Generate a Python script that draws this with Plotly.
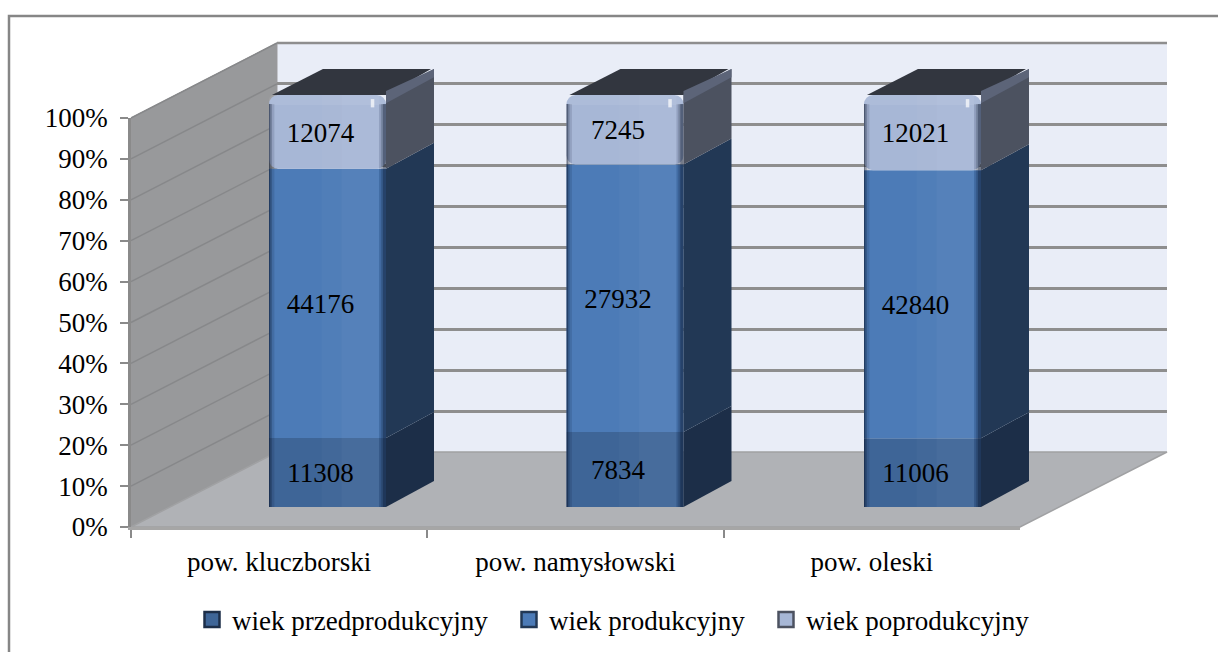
import plotly.graph_objects as go

W, H = 1218, 652
FONT = "Liberation Serif"

# ---- data ----
categories = ["pow. kluczborski", "pow. namysłowski", "pow. oleski"]
series_names = ["wiek przedprodukcyjny", "wiek produkcyjny", "wiek poprodukcyjny"]
przed = [11308, 7834, 11006]
prod = [44176, 27932, 42840]
post = [12074, 7245, 12021]
pct_ticks = [0, 10, 20, 30, 40, 50, 60, 70, 80, 90, 100]

series_values = [przed, prod, post]
front_col = ["#3E6597", "#4C7BB7", "#A7B7D6"]
side_col = ["#1C2E48", "#223855", "#4C5260"]
CAP = "#32363F"
GRID = "#8E8E8E"

# ---- geometry of the pseudo-3D frame, in page pixels ----
FX0, FX1, FY0, FY1 = 131, 1020, 527, 118      # front plane (axis)
BX0, BX1, BY0, BY1 = 277, 1167, 452, 43       # back wall
BAR_C0, BAR_STEP, BAR_W = 327.5, 297.5, 117   # bar centre, spacing, width (px)
BAR_Y0, BAR_PX100 = 507, 412                  # bar baseline, px for 100 %
DX, DY = 48, 26                               # bar depth in px
LABEL_SHIFT = -7                              # label offset from bar centre, px
LABEL_DROP = 3                                # label offset below segment middle, px
LEGEND_TEXT_X = [232, 549, 806]               # where each legend text starts, px
LEGEND_INSET = 40                             # legend left edge to its text, px


def px(x):
    return x / W


def py(y):
    return 1 - y / H


def path(points):
    return "M" + " L".join(f"{px(x):.5f},{py(y):.5f}" for x, y in points) + " Z"


# bar-plane axes span the whole page
x3_range = [(0 - BAR_C0) / BAR_STEP, (W - BAR_C0) / BAR_STEP]
y3_range = [(BAR_Y0 - H) * 100 / BAR_PX100, BAR_Y0 * 100 / BAR_PX100]
dx_u, dy_u = DX / BAR_STEP, DY * 100 / BAR_PX100
bw_u = BAR_W / BAR_STEP

# cumulative percentages
totals = [sum(v[i] for v in series_values) for i in range(3)]
pct = [[v[i] * 100 / totals[i] for i in range(3)] for v in series_values]
bases = [[0, 0, 0]]
for p in pct[:-1]:
    bases.append([b + q for b, q in zip(bases[-1], p)])

fig = go.Figure()

# anchor traces so that back wall and front axes exist
fig.add_trace(go.Scatter(x=[0], y=[None], xaxis="x", yaxis="y", showlegend=False, hoverinfo="skip"))
fig.add_trace(go.Scatter(x=categories, y=[None] * 3, xaxis="x2", yaxis="y2", showlegend=False, hoverinfo="skip"))

xs = [0, 1, 2]
# side faces
for s in range(3):
    for i in xs:
        r = i + bw_u / 2
        b, t = bases[s][i], bases[s][i] + pct[s][i]
        fig.add_trace(go.Scatter(
            x=[r, r + dx_u, r + dx_u, r], y=[b, b + dy_u, t + dy_u, t],
            fill="toself", fillcolor=side_col[s], mode="lines", line=dict(width=0),
            xaxis="x3", yaxis="y3", showlegend=False, hoverinfo="skip"))

# top caps and the light strip on the corner
for i in xs:
    l, r = i - bw_u / 2, i + bw_u / 2
    fig.add_trace(go.Scatter(
        x=[l + 0.01, l + dx_u + 0.02, r + dx_u - 0.01, r], y=[100, 100 + dy_u, 100 + dy_u, 100],
        fill="toself", fillcolor=CAP, mode="lines", line=dict(width=0),
        xaxis="x3", yaxis="y3", showlegend=False, hoverinfo="skip"))
    fig.add_trace(go.Scatter(
        x=[r, r + dx_u, r + dx_u, r], y=[98, 98 + dy_u, 100 + dy_u, 100 + 1],
        fill="toself", fillcolor="#5C6478", mode="lines", line=dict(width=0),
        xaxis="x3", yaxis="y3", showlegend=False, hoverinfo="skip"))

# front faces
for s in range(3):
    fig.add_trace(go.Bar(
        x=xs, y=pct[s], base=bases[s], width=bw_u, offset=-bw_u / 2,
        marker=dict(color=front_col[s], line=dict(width=0), cornerradius=9 if s == 2 else 0),
        xaxis="x3", yaxis="y3", showlegend=False, hoverinfo="skip"))

# shading strips over the front faces: start, width (fractions of bar), colour
strips = [
    (0.000, 0.012, "rgba(0,10,30,0.55)"),
    (0.012, 0.014, "rgba(0,10,30,0.30)"),
    (0.026, 0.020, "rgba(0,10,30,0.12)"),
    (0.450, 0.170, "rgba(255,255,255,0.025)"),
    (0.620, 0.320, "rgba(255,255,255,0.05)"),
    (0.940, 0.016, "rgba(0,10,30,0.12)"),
    (0.956, 0.016, "rgba(0,10,30,0.28)"),
    (0.972, 0.028, "rgba(0,10,30,0.50)"),
]
for start, width, colour in strips:
    for s in range(3):
        # keep the top corners round: the strips stop short of the top of the bar
        top_trim = 2.2 if (s == 2 and (start < 0.05 or start > 0.93)) else 0
        fig.add_trace(go.Bar(
            x=xs, y=[v - top_trim for v in pct[s]], base=bases[s], width=bw_u * width,
            offset=-bw_u / 2 + bw_u * start,
            marker=dict(color=colour, line=dict(width=0)),
            xaxis="x3", yaxis="y3", showlegend=False, hoverinfo="skip"))

# lighter band along the top of the front face, and the small glint in its corner
fig.add_trace(go.Bar(
    x=xs, y=[2.4] * 3, base=[97.6] * 3, width=bw_u, offset=-bw_u / 2,
    marker=dict(color="rgba(255,255,255,0.08)", line=dict(width=0), cornerradius=9),
    xaxis="x3", yaxis="y3", showlegend=False, hoverinfo="skip"))
fig.add_trace(go.Bar(
    x=xs, y=[2.0] * 3, base=[97.0] * 3, width=bw_u * 0.03, offset=bw_u * 0.37,
    marker=dict(color="rgba(255,255,255,0.7)", line=dict(width=0)),
    xaxis="x3", yaxis="y3", showlegend=False, hoverinfo="skip"))

# data labels
for s in range(3):
    fig.add_trace(go.Scatter(
        x=[i + LABEL_SHIFT / BAR_STEP for i in xs],
        y=[bases[s][i] + pct[s][i] / 2 - LABEL_DROP * 100 / BAR_PX100 for i in xs],
        text=[str(v) for v in series_values[s]], mode="text",
        textfont=dict(family=FONT, size=27, color="#000000"),
        xaxis="x3", yaxis="y3", showlegend=False, hoverinfo="skip"))

# legend entries, one legend each so that they can sit where the reference has them
legend_ids = ["legend", "legend2", "legend3"]
for s in range(3):
    fig.add_trace(go.Scatter(
        x=[None], y=[None], name=series_names[s], mode="markers", legend=legend_ids[s],
        marker=dict(symbol="square", size=15, color=front_col[s],
                    line=dict(color=side_col[s], width=2.5)),
        xaxis="x3", yaxis="y3"))


def legend_box(text_x):
    return dict(
        x=px(text_x - LEGEND_INSET), xanchor="left", y=py(620), yanchor="middle",
        font=dict(family=FONT, size=27, color="#000000"),
        itemsizing="trace", itemwidth=30, bgcolor="rgba(0,0,0,0)",
    )


shapes = [
    # outer frame
    dict(type="path", xref="paper", yref="paper", layer="below",
         path=path([(9, 16), (W + 5, 16), (W + 5, H + 5), (9, H + 5)]),
         line=dict(color="#868686", width=2.5), fillcolor="#FFFFFF"),
    # back wall
    dict(type="path", xref="paper", yref="paper", layer="below",
         path=path([(BX0, BY1), (BX1, BY1), (BX1, BY0), (BX0, BY0)]),
         line=dict(width=0), fillcolor="#E9EDF7"),
    # top edge of the back wall (the grid leaves out the line at the end of its axis)
    dict(type="line", xref="paper", yref="paper", layer="below",
         x0=px(BX0), y0=py(BY1), x1=px(BX1), y1=py(BY1),
         line=dict(color=GRID, width=2.5)),
    # left wall
    dict(type="path", xref="paper", yref="paper", layer="below",
         path=path([(FX0, FY1), (BX0, BY1), (BX0, BY0), (FX0, FY0)]),
         line=dict(color="#9A9A9C", width=1), fillcolor="#98999B"),
    # floor
    dict(type="path", xref="paper", yref="paper", layer="below",
         path=path([(FX0, FY0), (FX1, FY0), (BX1, BY0), (BX0, BY0)]),
         line=dict(color="#A0A1A3", width=1.5), fillcolor="#B0B2B6"),
]
for t in pct_ticks[1:]:
    f = t / 100
    shapes.append(dict(
        type="line", xref="paper", yref="paper", layer="below",
        x0=px(FX0), y0=py(FY0 + (FY1 - FY0) * f),
        x1=px(BX0), y1=py(BY0 + (BY1 - BY0) * f),
        line=dict(color="#87888A", width=1.5)))

fig.update_layout(
    width=W, height=H,
    margin=dict(l=0, r=0, t=0, b=0, autoexpand=False),
    autosize=False,
    paper_bgcolor="#FFFFFF",
    plot_bgcolor="rgba(0,0,0,0)",
    barmode="overlay",
    shapes=shapes,
    font=dict(family=FONT, color="#000000"),
    showlegend=True,
    legend=legend_box(LEGEND_TEXT_X[0]),
    legend2=legend_box(LEGEND_TEXT_X[1]),
    legend3=legend_box(LEGEND_TEXT_X[2]),
    # back wall grid
    xaxis=dict(domain=[px(BX0), px(BX1)], range=[0, 1], anchor="y", visible=False),
    yaxis=dict(domain=[py(BY0), py(BY1)], range=[0, 100], anchor="x", tickvals=pct_ticks,
               showgrid=True, gridcolor=GRID, gridwidth=2.5, showticklabels=False,
               ticks="", zeroline=False, showline=False),
    # front axes
    xaxis2=dict(domain=[px(FX0), px(FX1)], anchor="y2", type="category",
                categoryorder="array", categoryarray=categories,
                range=[-0.5, 2.5], tickson="boundaries", ticks="outside", ticklen=8,
                tickwidth=2, tickcolor="#8A8A8A", showline=True, linecolor="#A6A6A6",
                linewidth=2.5, showgrid=False, zeroline=False, ticklabelstandoff=9,
                tickfont=dict(family=FONT, size=27, color="#000000")),
    yaxis2=dict(domain=[py(FY0), py(FY1)], anchor="x2", range=[0, 100], tickvals=pct_ticks,
                ticktext=[f"{t}%" for t in pct_ticks], ticks="outside", ticklen=8,
                tickwidth=2, tickcolor="#8A8A8A", showline=True, linecolor="#8A8A8A",
                linewidth=2.5, showgrid=False, zeroline=False, ticklabelstandoff=7,
                tickfont=dict(family=FONT, size=27, color="#000000")),
    # bar plane, spanning the page
    xaxis3=dict(domain=[0, 1], range=x3_range, anchor="y3", visible=False, fixedrange=True),
    yaxis3=dict(domain=[0, 1], range=y3_range, anchor="x3", visible=False, fixedrange=True),
)

fig.write_html("out.html", config={"displayModeBar": False},
               post_script="document.body.style.margin='0';")
